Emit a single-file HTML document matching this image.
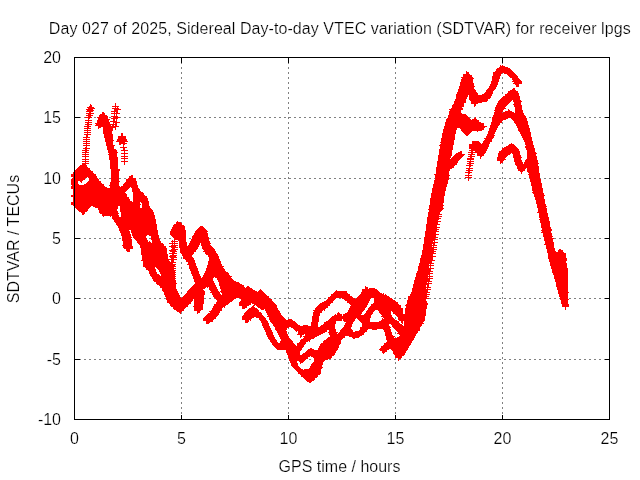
<!DOCTYPE html>
<html><head><meta charset="utf-8"><title>SDTVAR lpgs</title>
<style>
html,body{margin:0;padding:0;background:#fff;overflow:hidden}
svg{display:block}
text{will-change:transform;stroke:#fff;stroke-width:.22px;font-family:"Liberation Sans",Arial,sans-serif;font-size:16px;fill:#000}
</style></head><body>
<svg width="640" height="480" viewBox="0 0 640 480">
<defs><marker id="p" markerWidth="7" markerHeight="7" refX="3.5" refY="3.5" markerUnits="userSpaceOnUse" overflow="visible"><path d="M0 3.5h7M3.5 0v7" stroke="#f00" stroke-width="1" fill="none" shape-rendering="crispEdges"/></marker></defs>
<rect width="640" height="480" fill="#fff"/>
<g stroke="#808080" stroke-width="1" stroke-dasharray="2 3" shape-rendering="crispEdges">
<line x1="181.5" y1="57" x2="181.5" y2="419"/><line x1="288.5" y1="57" x2="288.5" y2="419"/><line x1="395.5" y1="57" x2="395.5" y2="419"/><line x1="502.5" y1="57" x2="502.5" y2="419"/><line x1="74" y1="117.5" x2="609" y2="117.5"/><line x1="74" y1="178.5" x2="609" y2="178.5"/><line x1="74" y1="238.5" x2="609" y2="238.5"/><line x1="74" y1="298.5" x2="609" y2="298.5"/><line x1="74" y1="359.5" x2="609" y2="359.5"/>
</g>
<path d="M74.5 419.5v-5M74.5 57.5v5M181.5 419.5v-5M181.5 57.5v5M288.5 419.5v-5M288.5 57.5v5M395.5 419.5v-5M395.5 57.5v5M502.5 419.5v-5M502.5 57.5v5M609.5 419.5v-5M609.5 57.5v5M74.5 57.5h5M609.5 57.5h-5M74.5 117.5h5M609.5 117.5h-5M74.5 178.5h5M609.5 178.5h-5M74.5 238.5h5M609.5 238.5h-5M74.5 298.5h5M609.5 298.5h-5M74.5 359.5h5M609.5 359.5h-5M74.5 419.5h5M609.5 419.5h-5" stroke="#000" stroke-width="1" fill="none" shape-rendering="crispEdges"/>
<polyline transform="translate(.5 .5)" fill="none" stroke="none" marker-start="url(#p)" marker-mid="url(#p)" marker-end="url(#p)" points="74,174 74,175 74,176 74,179 74,180 74,181 74,182 74,183 74,184 74,186 74,187 74,188 74,195 74,196 74,202 74,203 74,204 75,178 75,180 75,185 75,186 75,187 76,172 76,173 76,174 76,175 76,176 76,177 76,185 76,186 76,187 76,188 76,189 76,190 76,191 76,192 76,193 76,194 76,195 76,196 76,197 76,198 76,199 76,200 76,201 76,202 76,203 76,204 76,205 77,171 77,172 77,173 77,174 77,175 77,176 77,186 77,188 77,189 77,190 77,192 77,193 77,195 77,198 77,201 77,203 77,204 77,206 78,170 78,171 78,172 78,174 78,175 78,176 78,187 78,189 78,191 78,192 78,195 78,197 78,198 78,201 78,202 78,204 78,207 79,169 79,171 79,174 79,176 79,177 79,188 79,189 79,191 79,192 79,195 79,196 79,198 79,201 79,204 79,206 79,207 79,208 80,168 80,170 80,171 80,173 80,174 80,175 80,177 80,178 80,188 80,189 80,190 80,192 80,193 80,195 80,198 80,200 80,201 80,204 80,205 80,207 80,208 81,168 81,169 81,171 81,172 81,174 81,176 81,177 81,178 81,179 81,188 81,189 81,192 81,194 81,195 81,198 81,199 81,201 81,204 81,207 81,209 82,167 82,168 82,171 82,173 82,174 82,176 82,177 82,188 82,189 82,192 82,193 82,195 82,196 82,197 82,198 82,199 82,200 82,201 82,202 82,203 82,204 82,205 82,207 82,208 82,210 82,211 83,166 83,167 83,168 83,171 83,172 83,174 83,175 83,188 83,189 83,192 83,195 83,197 83,198 83,201 83,202 83,204 83,206 83,207 83,210 83,211 84,167 84,168 84,171 84,174 84,175 84,187 84,189 84,191 84,192 84,195 84,196 84,198 84,201 84,204 84,206 84,207 84,209 84,210 85,150 85,152 85,154 85,156 85,159 85,161 85,163 85,168 85,170 85,171 85,172 85,173 85,174 85,187 85,189 85,190 85,192 85,195 85,198 85,200 85,201 85,204 85,205 85,207 85,208 86,137 86,139 86,141 86,143 86,145 86,148 86,168 86,169 86,171 86,172 86,174 86,186 86,189 86,192 86,194 86,195 86,198 86,199 86,201 86,204 86,207 87,126 87,128 87,130 87,132 87,134 87,170 87,171 87,172 87,185 87,186 87,188 87,189 87,192 87,193 87,195 87,198 87,201 87,203 87,204 87,206 88,117 88,120 88,122 88,124 88,171 88,172 88,173 88,184 88,186 88,187 88,189 88,192 88,195 88,197 88,198 88,201 88,202 88,204 88,205 89,109 89,111 89,113 89,115 89,172 89,173 89,174 89,175 89,176 89,183 89,184 89,186 89,189 89,191 89,192 89,195 89,196 89,198 89,201 89,203 89,204 90,107 90,110 90,113 90,173 90,174 90,175 90,182 90,183 90,185 90,186 90,189 90,190 90,192 90,195 90,198 90,200 90,201 90,203 91,108 91,174 91,175 91,176 91,177 91,181 91,183 91,184 91,186 91,189 91,192 91,194 91,195 91,198 91,199 91,201 91,202 92,174 92,175 92,176 92,177 92,178 92,179 92,180 92,181 92,183 92,186 92,188 92,189 92,192 92,193 92,195 92,198 92,201 92,202 93,176 93,177 93,180 93,182 93,183 93,184 93,185 93,186 93,187 93,188 93,189 93,190 93,191 93,192 93,193 93,194 93,195 93,197 93,198 93,201 93,202 93,203 94,178 94,180 94,181 94,183 94,186 94,189 94,191 94,192 94,195 94,196 94,198 94,201 94,203 95,179 95,180 95,181 95,183 95,185 95,186 95,189 95,190 95,192 95,195 95,196 95,198 95,200 95,201 95,203 95,204 96,181 96,183 96,184 96,186 96,189 96,192 96,194 96,195 96,196 96,198 96,199 96,201 96,204 97,182 97,183 97,184 97,186 97,188 97,189 97,192 97,193 97,195 97,196 97,198 97,201 97,203 97,204 98,123 98,125 98,184 98,186 98,187 98,189 98,192 98,195 98,196 98,197 98,198 98,201 98,202 98,204 98,205 98,206 99,123 99,124 99,185 99,186 99,189 99,191 99,192 99,195 99,196 99,198 99,201 99,204 99,206 99,207 100,117 100,120 100,121 100,122 100,123 100,124 100,184 100,185 100,186 100,189 100,190 100,192 100,195 100,196 100,198 100,200 100,201 100,204 100,205 100,207 101,117 101,118 101,119 101,120 101,122 101,123 101,186 101,187 101,189 101,192 101,194 101,195 101,196 101,198 101,199 101,201 101,204 101,207 101,208 101,209 102,115 102,116 102,117 102,118 102,120 102,122 102,123 102,188 102,189 102,192 102,193 102,195 102,197 102,198 102,201 102,203 102,204 102,207 102,208 102,209 102,210 102,211 102,212 103,115 103,117 103,118 103,119 103,120 103,121 103,122 103,123 103,124 103,125 103,126 103,188 103,189 103,192 103,195 103,197 103,198 103,201 103,202 103,204 103,207 103,210 103,212 103,213 104,116 104,117 104,118 104,120 104,121 104,122 104,123 104,126 104,189 104,191 104,192 104,195 104,196 104,197 104,198 104,201 104,204 104,206 104,207 104,210 104,211 104,212 105,119 105,120 105,121 105,122 105,123 105,124 105,125 105,126 105,190 105,192 105,195 105,197 105,198 105,200 105,201 105,204 105,205 105,207 105,210 105,212 106,119 106,122 106,123 106,124 106,126 106,127 106,128 106,129 106,130 106,131 106,132 106,133 106,190 106,192 106,194 106,195 106,197 106,198 106,199 106,201 106,204 106,207 106,209 106,210 106,212 107,125 107,126 107,128 107,129 107,130 107,131 107,132 107,133 107,134 107,135 107,136 107,137 107,191 107,192 107,193 107,195 107,197 107,198 107,199 107,200 107,201 107,202 107,203 107,204 107,207 107,208 107,210 107,212 108,126 108,127 108,128 108,129 108,130 108,131 108,132 108,133 108,134 108,135 108,136 108,137 108,138 108,139 108,140 108,141 108,191 108,192 108,195 108,196 108,197 108,198 108,201 108,202 108,203 108,204 108,205 108,206 108,207 108,210 108,211 108,212 109,126 109,134 109,135 109,136 109,137 109,138 109,139 109,140 109,141 109,142 109,143 109,144 109,145 109,191 109,192 109,195 109,196 109,198 109,201 109,204 109,206 109,207 109,208 109,210 109,211 109,212 110,140 110,145 110,146 110,147 110,148 110,149 110,188 110,189 110,190 110,192 110,195 110,196 110,198 110,200 110,201 110,204 110,205 110,207 110,209 110,210 110,212 110,213 111,145 111,149 111,150 111,151 111,152 111,154 111,188 111,189 111,192 111,194 111,195 111,196 111,198 111,199 111,201 111,204 111,207 111,209 111,210 111,212 112,127 112,149 112,150 112,153 112,154 112,155 112,156 112,157 112,158 112,159 112,185 112,188 112,189 112,192 112,193 112,195 112,196 112,198 112,201 112,203 112,204 112,207 112,208 112,210 112,211 112,213 112,214 112,215 113,121 113,124 113,150 113,151 113,152 113,153 113,154 113,155 113,156 113,157 113,158 113,159 113,160 113,161 113,162 113,163 113,164 113,165 113,166 113,167 113,168 113,182 113,183 113,184 113,185 113,186 113,187 113,188 113,189 113,192 113,195 113,196 113,197 113,198 113,201 113,202 113,204 113,206 113,207 113,208 113,209 113,210 113,212 113,213 113,215 114,111 114,113 114,116 114,118 114,152 114,157 114,158 114,159 114,160 114,161 114,162 114,163 114,164 114,165 114,166 114,167 114,168 114,169 114,170 114,171 114,172 114,173 114,174 114,175 114,176 114,177 114,178 114,179 114,180 114,181 114,182 114,183 114,184 114,185 114,186 114,187 114,188 114,189 114,190 114,191 114,192 114,193 114,194 114,195 114,196 114,198 114,201 114,204 114,205 114,211 114,212 114,213 114,214 114,215 115,106 115,108 115,126 115,169 115,170 115,171 115,172 115,173 115,174 115,175 115,176 115,177 115,178 115,179 115,180 115,181 115,182 115,183 115,184 115,185 115,186 115,189 115,190 115,192 115,195 115,196 115,198 115,200 115,201 115,204 115,205 115,213 115,215 115,216 115,217 115,218 116,113 116,117 116,122 116,169 116,170 116,181 116,187 116,188 116,189 116,192 116,194 116,195 116,196 116,198 116,199 116,201 116,202 116,203 116,204 116,205 116,217 116,218 116,219 117,109 117,187 117,188 117,189 117,192 117,193 117,195 117,197 117,198 117,201 117,202 117,203 117,205 117,217 117,218 117,219 117,220 117,221 118,187 118,188 118,189 118,192 118,194 118,195 118,197 118,198 118,201 118,202 118,219 118,220 118,222 119,141 119,189 119,190 119,191 119,192 119,193 119,195 119,196 119,198 119,199 119,201 119,202 119,220 119,221 119,222 119,223 119,224 120,139 120,140 120,141 120,190 120,192 120,195 120,198 120,200 120,201 120,203 120,204 120,205 120,220 120,222 120,224 120,225 121,136 121,137 121,138 121,139 121,140 121,190 121,191 121,192 121,194 121,195 121,198 121,199 121,200 121,201 121,204 121,205 121,217 121,218 121,219 121,221 121,222 121,224 121,225 121,226 121,227 122,136 122,137 122,138 122,139 122,140 122,189 122,190 122,191 122,193 122,194 122,195 122,198 122,201 122,203 122,204 122,205 122,217 122,218 122,219 122,221 122,222 122,223 122,225 122,226 122,227 122,228 122,229 122,230 123,139 123,140 123,141 123,143 123,147 123,187 123,188 123,189 123,190 123,194 123,195 123,196 123,197 123,198 123,201 123,202 123,204 123,206 123,207 123,208 123,209 123,210 123,211 123,217 123,219 123,221 123,222 123,225 123,227 123,228 123,231 123,232 124,141 124,150 124,153 124,156 124,158 124,161 124,186 124,187 124,188 124,189 124,197 124,198 124,201 124,202 124,203 124,204 124,205 124,206 124,207 124,210 124,211 124,212 124,213 124,214 124,215 124,216 124,219 124,221 124,222 124,223 124,224 124,225 124,226 124,227 124,228 124,229 124,230 124,231 124,233 124,234 124,235 125,186 125,187 125,188 125,197 125,198 125,200 125,201 125,204 125,205 125,206 125,207 125,210 125,213 125,215 125,216 125,219 125,220 125,222 125,223 125,225 125,228 125,229 125,230 125,231 125,232 125,233 125,234 125,235 125,236 125,237 125,238 125,239 125,240 125,245 126,184 126,185 126,186 126,187 126,199 126,200 126,201 126,204 126,207 126,208 126,209 126,210 126,213 126,214 126,216 126,219 126,222 126,223 126,224 126,225 126,228 126,229 126,231 126,232 126,233 126,234 126,235 126,236 126,237 126,238 126,239 126,240 126,241 126,242 126,243 126,244 126,245 126,246 126,247 127,183 127,185 127,186 127,201 127,203 127,204 127,207 127,208 127,209 127,210 127,213 127,216 127,218 127,219 127,222 127,223 127,225 127,228 127,229 127,234 127,235 127,236 127,237 127,238 127,239 127,240 127,241 127,242 127,243 127,244 127,245 127,246 127,248 128,182 128,183 128,184 128,185 128,201 128,202 128,204 128,207 128,210 128,212 128,213 128,216 128,217 128,219 128,221 128,222 128,225 128,227 128,228 128,229 128,237 128,239 128,240 128,241 128,242 128,243 128,244 128,245 128,246 128,247 128,248 129,179 129,180 129,181 129,183 129,184 129,202 129,203 129,204 129,206 129,207 129,210 129,211 129,213 129,216 129,219 129,220 129,221 129,222 129,225 129,226 129,246 129,247 129,248 130,179 130,180 130,183 130,204 130,205 130,207 130,210 130,211 130,212 130,213 130,214 130,215 130,216 130,217 130,219 130,220 130,222 130,225 130,226 131,178 131,179 131,180 131,181 131,182 131,183 131,184 131,205 131,207 131,209 131,210 131,213 131,214 131,216 131,218 131,219 131,222 131,224 131,225 131,227 131,228 131,229 132,178 132,179 132,180 132,183 132,184 132,185 132,186 132,206 132,207 132,208 132,209 132,210 132,213 132,216 132,218 132,219 132,222 132,223 132,225 132,228 132,229 133,181 133,182 133,183 133,184 133,186 133,203 133,204 133,205 133,207 133,208 133,210 133,212 133,213 133,216 133,217 133,218 133,219 133,222 133,225 133,227 133,228 133,229 134,185 134,186 134,187 134,203 134,204 134,206 134,207 134,210 134,211 134,213 134,216 134,218 134,219 134,221 134,222 134,225 134,226 134,228 134,230 134,231 135,188 135,189 135,190 135,191 135,203 135,204 135,205 135,206 135,207 135,210 135,213 135,215 135,216 135,218 135,219 135,220 135,222 135,225 135,228 135,230 135,231 135,232 135,233 135,234 135,235 136,189 136,190 136,191 136,192 136,193 136,194 136,195 136,196 136,197 136,198 136,199 136,200 136,201 136,202 136,203 136,204 136,205 136,206 136,207 136,209 136,210 136,213 136,214 136,216 136,218 136,219 136,222 136,224 136,225 136,228 136,229 136,231 136,234 136,236 136,237 137,191 137,192 137,193 137,195 137,196 137,197 137,198 137,201 137,204 137,208 137,210 137,213 137,216 137,218 137,219 137,222 137,223 137,225 137,228 137,231 137,233 137,234 137,237 137,238 138,192 138,195 138,197 138,198 138,201 138,208 138,210 138,212 138,213 138,216 138,217 138,218 138,219 138,222 138,225 138,227 138,228 138,231 138,232 138,234 138,237 138,239 139,192 139,193 139,195 139,196 139,198 139,199 139,200 139,201 139,208 139,209 139,210 139,211 139,213 139,216 139,218 139,219 139,221 139,222 139,225 139,226 139,227 139,228 139,229 139,230 139,231 139,232 139,234 139,236 139,237 139,240 140,194 140,195 140,198 140,211 140,213 140,215 140,216 140,218 140,219 140,220 140,222 140,225 140,228 140,230 140,231 140,233 140,234 140,235 140,237 140,240 140,241 140,242 141,195 141,198 141,199 141,211 141,213 141,214 141,216 141,217 141,218 141,219 141,220 141,222 141,224 141,225 141,228 141,229 141,231 141,234 141,236 141,237 141,238 141,239 141,240 141,243 142,196 142,198 142,199 142,211 142,213 142,216 142,218 142,219 142,221 142,222 142,223 142,224 142,225 142,228 142,231 142,233 142,234 142,236 142,237 142,238 142,240 142,241 142,243 142,244 143,196 143,197 143,198 143,199 143,200 143,201 143,208 143,209 143,210 143,211 143,212 143,213 143,215 143,216 143,217 143,219 143,222 143,224 143,225 143,227 143,228 143,231 143,232 143,234 143,235 143,238 143,239 143,240 143,242 143,243 143,245 143,246 143,247 144,198 144,199 144,200 144,201 144,202 144,208 144,210 144,211 144,213 144,214 144,216 144,219 144,221 144,222 144,224 144,225 144,226 144,228 144,231 144,233 144,240 144,241 144,242 144,243 144,244 144,245 144,246 144,248 144,249 144,250 144,251 144,252 144,253 144,254 144,260 145,201 145,202 145,203 145,204 145,205 145,206 145,207 145,208 145,210 145,213 145,215 145,216 145,219 145,220 145,222 145,225 145,228 145,230 145,231 145,233 145,242 145,243 145,245 145,246 145,247 145,249 145,250 145,251 145,252 145,254 145,255 145,256 145,257 145,258 145,259 145,260 146,206 146,207 146,209 146,210 146,211 146,212 146,213 146,214 146,216 146,219 146,222 146,224 146,225 146,226 146,228 146,229 146,230 146,231 146,232 146,242 146,243 146,244 146,246 146,248 146,249 146,252 146,254 146,255 146,258 146,259 146,261 146,262 146,263 146,264 146,265 146,266 147,208 147,209 147,210 147,213 147,216 147,218 147,219 147,222 147,223 147,225 147,226 147,228 147,230 147,231 147,243 147,244 147,245 147,246 147,248 147,249 147,252 147,253 147,255 147,258 147,261 147,263 147,264 147,266 148,209 148,210 148,212 148,213 148,216 148,217 148,219 148,222 148,225 148,227 148,228 148,231 148,245 148,246 148,247 148,249 148,252 148,255 148,257 148,258 148,261 148,262 148,264 148,267 149,210 149,211 149,213 149,216 149,219 149,221 149,222 149,225 149,226 149,228 149,231 149,232 149,244 149,245 149,246 149,249 149,250 149,251 149,252 149,255 149,256 149,258 149,261 149,264 149,266 149,267 149,268 150,212 150,213 150,214 150,215 150,216 150,219 150,220 150,222 150,225 150,228 150,229 150,230 150,231 150,232 150,245 150,246 150,249 150,250 150,251 150,252 150,255 150,258 150,260 150,261 150,262 150,263 150,264 150,265 150,267 150,269 151,215 151,216 151,217 151,218 151,219 151,222 151,224 151,225 151,228 151,229 151,231 151,233 151,234 151,246 151,249 151,251 151,252 151,254 151,255 151,258 151,259 151,261 151,264 151,266 151,267 151,268 151,269 151,270 152,219 152,220 152,221 152,222 152,223 152,225 152,228 152,230 152,231 152,233 152,234 152,235 152,243 152,244 152,245 152,246 152,248 152,249 152,252 152,253 152,255 152,258 152,261 152,263 152,264 152,265 152,266 152,269 152,270 152,271 152,272 152,273 153,224 153,225 153,226 153,227 153,228 153,229 153,231 153,232 153,234 153,235 153,243 153,246 153,247 153,249 153,252 153,253 153,254 153,255 153,257 153,258 153,261 153,262 153,264 153,266 153,272 153,273 153,274 153,275 154,230 154,231 154,232 154,233 154,234 154,235 154,236 154,237 154,238 154,239 154,243 154,246 154,249 154,251 154,252 154,255 154,256 154,257 154,258 154,261 154,263 154,264 154,265 154,266 154,274 154,275 154,276 155,235 155,236 155,237 155,238 155,239 155,240 155,241 155,242 155,243 155,244 155,245 155,246 155,247 155,248 155,249 155,250 155,252 155,255 155,257 155,258 155,260 155,261 155,263 155,274 155,275 155,276 155,277 155,278 156,239 156,240 156,241 156,243 156,244 156,246 156,249 156,252 156,254 156,255 156,257 156,258 156,259 156,261 156,264 156,275 156,276 156,277 156,279 156,280 157,242 157,243 157,246 157,248 157,249 157,252 157,253 157,255 157,258 157,261 157,263 157,264 157,265 157,277 157,278 157,279 157,280 157,281 158,243 158,246 158,247 158,249 158,252 158,255 158,257 158,258 158,259 158,261 158,262 158,264 158,266 158,277 158,278 158,279 158,281 159,243 159,244 159,246 159,249 159,251 159,252 159,255 159,256 159,258 159,260 159,261 159,264 159,266 159,267 159,278 159,279 159,281 159,282 160,244 160,245 160,246 160,249 160,250 160,252 160,255 160,258 160,260 160,261 160,264 160,265 160,267 160,268 160,279 160,280 160,282 160,283 161,246 161,249 161,252 161,254 161,255 161,258 161,259 161,261 161,264 161,267 161,269 161,276 161,277 161,278 161,279 161,282 161,283 161,284 162,246 162,247 162,248 162,249 162,252 162,253 162,255 162,258 162,261 162,262 162,263 162,264 162,267 162,268 162,270 162,271 162,276 162,278 162,279 162,280 162,282 162,283 162,285 163,248 163,249 163,250 163,251 163,252 163,253 163,255 163,257 163,258 163,261 163,262 163,264 163,265 163,267 163,270 163,272 163,273 163,276 163,277 163,279 163,280 163,282 163,285 163,286 163,287 164,254 164,255 164,256 164,257 164,258 164,259 164,261 164,264 164,266 164,267 164,270 164,271 164,273 164,274 164,275 164,276 164,279 164,280 164,281 164,282 164,285 164,286 164,287 165,259 165,260 165,261 165,264 165,265 165,267 165,268 165,270 165,273 165,275 165,276 165,279 165,280 165,282 165,285 165,288 165,289 165,290 166,262 166,264 166,267 166,269 166,270 166,271 166,272 166,273 166,274 166,276 166,279 166,280 166,282 166,284 166,285 166,288 166,289 166,290 166,291 167,263 167,264 167,267 167,268 167,270 167,273 167,274 167,275 167,276 167,277 167,278 167,279 167,280 167,282 167,283 167,285 167,288 167,291 167,292 167,293 167,294 168,264 168,267 168,270 168,272 168,273 168,276 168,277 168,279 168,281 168,282 168,283 168,284 168,285 168,287 168,288 168,291 168,292 168,293 168,294 168,295 168,296 169,264 169,265 169,266 169,267 169,269 169,270 169,271 169,273 169,276 169,279 169,281 169,282 169,285 169,286 169,287 169,288 169,291 169,294 169,296 169,297 169,298 169,299 170,267 170,268 170,269 170,270 170,271 170,273 170,274 170,275 170,276 170,279 170,280 170,282 170,285 170,288 170,289 170,290 170,291 170,292 170,293 170,294 170,295 170,297 170,298 170,299 170,300 170,301 170,302 171,259 171,262 171,265 171,271 171,272 171,273 171,274 171,275 171,276 171,277 171,278 171,279 171,280 171,282 171,284 171,285 171,288 171,289 171,291 171,294 171,295 171,297 171,299 171,300 171,302 172,243 172,246 172,250 172,253 172,256 172,262 172,264 172,266 172,268 172,270 172,272 172,274 172,276 172,278 172,280 172,281 172,282 172,283 172,284 172,285 172,286 172,287 172,288 172,291 172,293 172,294 172,296 172,297 172,298 172,300 172,303 173,231 173,232 173,233 173,234 173,251 173,253 173,255 173,257 173,259 173,283 173,289 173,290 173,291 173,292 173,294 173,297 173,298 173,300 173,302 173,303 173,304 173,305 174,229 174,230 174,231 174,233 174,234 174,235 174,241 174,243 174,245 174,247 174,249 174,291 174,292 174,294 174,296 174,297 174,299 174,300 174,301 174,303 174,306 175,227 175,228 175,229 175,230 175,231 175,234 175,235 175,236 175,293 175,294 175,295 175,297 175,300 175,301 175,303 175,305 175,306 176,225 176,226 176,228 176,229 176,231 176,233 176,234 176,236 176,295 176,296 176,297 176,299 176,300 176,302 176,303 176,304 176,306 176,307 177,224 177,225 177,228 177,231 177,233 177,234 177,236 177,297 177,298 177,300 177,302 177,303 177,306 177,308 178,225 178,227 178,228 178,230 178,231 178,232 178,234 178,237 178,298 178,300 178,302 178,303 178,306 178,307 178,308 179,225 179,226 179,228 179,231 179,233 179,234 179,236 179,237 179,238 179,239 179,298 179,299 179,300 179,301 179,303 179,304 179,305 179,306 179,307 179,308 179,309 180,225 180,228 180,230 180,231 180,234 180,235 180,237 180,239 180,300 180,302 180,303 180,305 180,306 180,309 180,310 181,226 181,227 181,228 181,229 181,231 181,234 181,235 181,236 181,237 181,239 181,240 181,301 181,302 181,303 181,304 181,306 181,308 182,230 182,231 182,232 182,233 182,234 182,235 182,236 182,237 182,238 182,239 182,240 182,241 182,242 182,243 182,244 182,245 182,246 182,247 182,300 182,301 182,302 182,303 182,306 182,307 183,242 183,243 183,244 183,245 183,246 183,247 183,248 183,249 183,250 183,251 183,252 183,299 183,300 183,301 183,302 183,303 183,304 183,306 184,246 184,249 184,250 184,251 184,252 184,253 184,298 184,300 184,301 184,303 184,305 185,246 185,247 185,249 185,250 185,252 185,253 185,254 185,255 185,297 185,300 185,301 185,302 185,303 185,304 186,248 186,249 186,250 186,252 186,254 186,255 186,256 186,257 186,258 186,296 186,297 186,299 186,300 186,301 186,303 187,249 187,250 187,251 187,252 187,253 187,254 187,255 187,256 187,257 187,258 187,295 187,297 187,298 187,299 187,300 187,302 187,303 188,248 188,249 188,250 188,252 188,254 188,255 188,256 188,257 188,258 188,259 188,294 188,297 188,298 188,299 188,300 188,301 189,246 189,247 189,249 189,251 189,252 189,254 189,257 189,258 189,259 189,260 189,293 189,294 189,296 189,297 189,298 189,299 189,300 190,246 190,249 190,250 190,252 190,253 190,258 190,259 190,260 190,261 190,264 190,291 190,292 190,294 190,295 190,296 190,297 190,298 191,245 191,246 191,248 191,249 191,250 191,251 191,260 191,261 191,262 191,263 191,264 191,290 191,291 191,294 191,295 191,297 192,243 192,244 192,246 192,247 192,248 192,249 192,250 192,251 192,263 192,264 192,265 192,266 192,267 192,268 192,289 192,291 192,293 192,294 192,296 192,297 193,241 193,242 193,243 193,245 193,246 193,247 193,249 193,266 193,267 193,268 193,269 193,270 193,288 193,291 193,292 193,293 193,294 193,295 194,239 194,240 194,241 194,243 194,244 194,245 194,246 194,247 194,248 194,268 194,269 194,270 194,271 194,272 194,273 194,287 194,288 194,291 194,292 194,293 194,294 194,297 195,236 195,237 195,238 195,240 195,241 195,242 195,243 195,244 195,245 195,246 195,271 195,272 195,273 195,274 195,275 195,286 195,287 195,288 195,290 195,291 195,293 195,294 195,295 195,296 195,297 196,235 196,236 196,237 196,239 196,240 196,241 196,242 196,243 196,244 196,274 196,275 196,276 196,277 196,278 196,285 196,286 196,288 196,289 196,291 196,293 196,294 196,297 196,306 197,233 197,234 197,237 197,238 197,239 197,240 197,242 197,276 197,277 197,278 197,279 197,280 197,281 197,284 197,285 197,288 197,291 197,292 197,293 197,294 197,297 197,301 197,302 197,303 197,304 197,305 197,306 197,307 197,308 197,309 197,310 198,231 198,232 198,234 198,236 198,237 198,238 198,239 198,240 198,242 198,278 198,279 198,280 198,281 198,282 198,283 198,285 198,287 198,288 198,289 198,290 198,291 198,292 198,293 198,294 198,297 198,298 198,299 198,300 198,301 198,302 198,303 198,304 198,305 198,306 198,307 198,308 198,309 199,230 199,231 199,234 199,235 199,236 199,237 199,238 199,240 199,241 199,278 199,279 199,281 199,282 199,283 199,284 199,285 199,286 199,287 199,288 199,289 199,291 199,294 199,295 199,296 199,297 199,298 199,299 199,300 199,301 199,302 199,303 199,304 199,305 199,306 199,307 199,308 199,309 200,229 200,230 200,231 200,233 200,234 200,235 200,237 200,238 200,239 200,279 200,280 200,282 200,285 200,286 200,288 200,290 200,291 200,293 200,294 200,295 200,296 200,297 200,298 200,299 200,300 200,301 200,302 200,303 201,229 201,231 201,232 201,233 201,234 201,235 201,236 201,237 201,238 201,239 201,240 201,241 201,242 201,281 201,282 201,284 201,285 201,288 201,291 201,292 201,293 201,294 202,229 202,231 202,232 202,233 202,234 202,237 202,238 202,240 202,242 202,280 202,282 202,283 202,284 202,285 202,286 202,287 203,230 203,231 203,232 203,233 203,234 203,235 203,237 203,239 203,240 203,242 203,278 203,279 203,280 203,282 203,283 203,284 203,285 204,231 204,233 204,234 204,235 204,236 204,237 204,238 204,239 204,240 204,241 204,243 204,244 204,245 204,278 204,279 204,281 204,282 204,283 204,285 205,237 205,238 205,239 205,240 205,241 205,242 205,243 205,244 205,245 205,246 205,247 205,248 205,277 205,279 205,280 205,282 205,284 206,241 206,242 206,243 206,244 206,245 206,246 206,247 206,249 206,251 206,275 206,276 206,279 206,280 206,281 206,282 206,283 206,318 206,319 206,320 207,243 207,245 207,246 207,247 207,248 207,249 207,250 207,251 207,273 207,274 207,276 207,278 207,279 207,280 207,281 207,282 207,283 207,284 207,317 207,318 207,319 207,320 208,246 208,247 208,248 208,249 208,252 208,253 208,271 208,272 208,273 208,275 208,276 208,277 208,278 208,279 208,282 208,283 208,316 208,317 208,318 208,319 208,320 209,247 209,249 209,250 209,251 209,252 209,253 209,268 209,269 209,270 209,271 209,273 209,274 209,275 209,276 209,278 209,279 209,280 209,281 209,282 209,283 209,284 209,285 209,316 209,318 209,319 210,248 210,249 210,250 210,251 210,252 210,253 210,254 210,265 210,266 210,267 210,270 210,273 210,274 210,275 210,276 210,277 210,281 210,282 210,283 210,285 210,286 210,314 210,315 210,317 210,318 211,249 211,250 211,252 211,253 211,254 211,255 211,256 211,261 211,262 211,263 211,264 211,267 211,269 211,270 211,271 211,272 211,273 211,274 211,276 211,283 211,284 211,285 211,286 211,313 211,314 211,315 211,316 211,317 211,318 212,251 212,252 212,253 212,254 212,255 212,256 212,257 212,258 212,259 212,260 212,261 212,263 212,264 212,267 212,268 212,269 212,270 212,272 212,273 212,275 212,276 212,285 212,286 212,287 212,288 212,289 212,311 212,313 212,315 212,316 212,317 212,318 213,253 213,255 213,256 213,257 213,258 213,259 213,260 213,261 213,262 213,263 213,264 213,265 213,266 213,267 213,270 213,271 213,272 213,273 213,274 213,287 213,288 213,289 213,290 213,292 213,311 213,312 213,314 213,315 213,316 214,254 214,255 214,256 214,257 214,258 214,260 214,261 214,262 214,264 214,265 214,266 214,267 214,268 214,269 214,270 214,271 214,273 214,289 214,290 214,291 214,292 214,310 214,311 214,312 214,313 214,314 214,315 215,256 215,257 215,258 215,259 215,260 215,261 215,264 215,265 215,267 215,270 215,271 215,273 215,274 215,291 215,292 215,293 215,294 215,308 215,309 215,310 215,311 215,312 215,313 215,314 216,259 216,260 216,261 216,262 216,263 216,264 216,267 216,269 216,270 216,271 216,273 216,274 216,292 216,293 216,294 216,295 216,296 216,306 216,307 216,309 216,310 216,311 216,312 217,261 217,262 217,263 217,264 217,265 217,266 217,267 217,268 217,270 217,272 217,273 217,275 217,276 217,294 217,295 217,296 217,297 217,304 217,305 217,306 217,307 217,308 217,309 217,310 218,264 218,265 218,266 218,267 218,270 218,272 218,273 218,276 218,277 218,296 218,297 218,298 218,304 218,306 218,307 218,308 218,309 218,310 219,266 219,267 219,268 219,269 219,270 219,271 219,273 219,276 219,277 219,296 219,297 219,298 219,299 219,302 219,303 219,305 219,306 219,307 220,266 220,268 220,270 220,271 220,273 220,274 220,275 220,276 220,278 220,279 220,297 220,298 220,299 220,300 220,302 220,303 220,304 220,305 220,306 221,269 221,270 221,272 221,273 221,274 221,275 221,276 221,279 221,280 221,281 221,298 221,299 221,300 221,301 221,302 221,303 221,304 221,305 221,306 222,271 222,273 222,274 222,276 222,278 222,279 222,282 222,283 222,284 222,285 222,299 222,300 222,303 222,304 223,272 223,273 223,274 223,275 223,276 223,277 223,278 223,279 223,282 223,285 223,286 223,287 223,288 223,291 223,297 223,298 223,299 223,300 223,302 223,303 224,272 224,273 224,275 224,276 224,279 224,280 224,281 224,282 224,285 224,286 224,288 224,289 224,290 224,291 224,292 224,297 224,300 224,301 224,302 224,303 224,304 225,274 225,275 225,276 225,277 225,279 225,280 225,281 225,282 225,285 225,288 225,289 225,290 225,291 225,292 225,293 225,294 225,295 225,296 225,297 225,300 225,301 225,302 226,275 226,276 226,278 226,279 226,282 226,283 226,284 226,285 226,288 226,289 226,291 226,294 226,295 226,296 226,297 226,299 226,300 226,301 227,276 227,277 227,278 227,279 227,282 227,283 227,285 227,286 227,288 227,291 227,293 227,294 227,295 227,297 227,298 227,299 227,300 228,276 228,278 228,279 228,280 228,282 228,285 228,287 228,288 228,291 228,292 228,294 228,297 228,298 228,299 228,300 229,279 229,281 229,282 229,285 229,286 229,288 229,289 229,290 229,291 229,294 229,296 229,297 229,298 229,299 230,280 230,281 230,282 230,285 230,288 230,289 230,290 230,291 230,294 230,295 230,297 230,298 231,281 231,282 231,284 231,285 231,288 231,289 231,290 231,291 231,294 231,297 231,298 232,282 232,283 232,285 232,288 232,290 232,291 232,293 232,294 232,296 232,297 233,283 233,285 233,287 233,288 233,290 233,291 233,292 233,294 233,295 233,296 234,284 234,285 234,286 234,288 234,290 234,291 234,294 234,295 235,284 235,285 235,288 235,290 235,291 235,294 235,295 236,285 236,288 236,289 236,291 236,293 236,294 237,285 237,288 237,291 237,293 237,294 238,285 238,287 238,288 238,291 238,292 238,293 238,294 239,286 239,288 239,291 239,292 239,294 240,287 240,288 240,290 240,291 240,292 240,294 240,295 241,287 241,288 241,289 241,291 241,292 241,294 241,295 241,296 242,288 242,291 242,292 242,293 242,294 242,296 242,297 242,302 242,303 242,304 242,305 243,288 243,289 243,291 243,292 243,294 243,297 243,298 243,301 243,302 243,303 243,304 243,305 244,290 244,291 244,292 244,294 244,296 244,297 244,298 244,300 244,301 244,302 244,303 244,304 244,305 245,291 245,292 245,294 245,295 245,297 245,299 245,300 245,301 245,303 245,304 245,316 245,317 245,318 245,319 246,290 246,291 246,293 246,294 246,297 246,298 246,299 246,300 246,302 246,303 246,304 246,315 246,317 246,318 246,319 247,289 247,291 247,293 247,294 247,295 247,297 247,298 247,300 247,301 247,302 247,313 247,314 247,315 247,316 247,317 247,318 247,319 248,289 248,291 248,292 248,294 248,296 248,297 248,300 248,301 248,302 248,312 248,315 248,316 248,317 248,318 249,290 249,291 249,294 249,296 249,297 249,300 249,301 249,311 249,312 249,314 249,315 249,316 250,291 250,294 250,295 250,297 250,300 250,301 250,311 250,312 250,313 250,314 250,315 250,316 250,317 251,291 251,294 251,297 251,299 251,310 251,312 251,313 251,314 251,315 252,292 252,293 252,294 252,297 252,298 252,300 252,309 252,312 252,313 253,293 253,294 253,297 253,300 253,308 253,309 253,310 253,311 253,312 253,313 254,293 254,294 254,296 254,297 254,300 254,301 254,302 254,310 254,311 254,312 254,313 255,294 255,295 255,297 255,300 255,301 255,311 255,312 255,313 256,294 256,297 256,299 256,300 256,302 256,312 256,313 256,314 257,295 257,296 257,297 257,298 257,300 257,302 257,303 257,312 257,313 257,314 258,294 258,297 258,300 258,301 258,302 258,303 258,304 258,313 258,314 259,293 259,294 259,296 259,297 259,298 259,299 259,300 259,301 259,303 259,304 259,315 260,292 260,294 260,295 260,297 260,300 260,303 260,305 260,316 261,293 261,294 261,297 261,299 261,300 261,301 261,303 261,304 261,306 261,317 262,294 262,297 262,298 262,300 262,301 262,303 262,306 262,318 262,319 263,295 263,296 263,297 263,300 263,302 263,303 263,306 263,320 264,296 264,297 264,300 264,301 264,303 264,305 264,321 264,322 265,297 265,300 265,303 265,305 265,306 265,307 265,323 265,324 265,325 266,298 266,299 266,300 266,303 266,304 266,306 266,308 266,326 266,327 267,299 267,300 267,303 267,305 267,306 267,308 267,328 267,329 268,299 268,300 268,302 268,303 268,305 268,306 268,307 268,309 268,310 268,330 268,331 269,301 269,303 269,306 269,309 269,310 269,311 269,312 269,332 269,333 269,334 270,302 270,303 270,305 270,306 270,307 270,308 270,309 270,310 270,312 270,313 270,314 270,316 270,335 270,336 271,303 271,304 271,306 271,309 271,310 271,312 271,314 271,315 271,316 271,337 271,338 272,304 272,305 272,306 272,308 272,309 272,311 272,312 272,313 272,315 272,317 272,318 272,319 272,339 273,305 273,306 273,307 273,308 273,309 273,312 273,313 273,315 273,317 273,318 273,319 273,320 273,321 273,340 273,341 274,308 274,309 274,311 274,312 274,314 274,315 274,316 274,318 274,321 274,322 274,342 275,310 275,312 275,315 275,316 275,317 275,318 275,320 275,321 275,323 275,343 275,344 276,311 276,312 276,314 276,315 276,318 276,319 276,321 276,323 276,324 276,325 276,345 277,313 277,314 277,315 277,318 277,319 277,320 277,321 277,323 277,324 277,326 277,345 277,346 278,315 278,317 278,318 278,321 278,322 278,324 278,327 278,328 278,329 278,346 279,316 279,318 279,321 279,322 279,324 279,326 279,327 279,329 279,330 279,346 280,317 280,318 280,320 280,321 280,323 280,324 280,325 280,327 280,330 280,331 280,332 280,344 280,345 280,346 281,318 281,319 281,321 281,324 281,325 281,326 281,327 281,328 281,329 281,330 281,333 281,334 281,345 281,346 282,319 282,321 282,323 282,324 282,327 282,328 282,330 282,331 282,332 282,333 282,334 282,335 282,336 282,344 282,345 282,346 283,320 283,321 283,322 283,323 283,324 283,327 283,328 283,329 283,331 283,332 283,333 283,335 283,336 283,337 283,338 283,342 283,343 283,344 283,345 283,346 284,321 284,323 284,324 284,326 284,327 284,334 284,335 284,336 284,337 284,338 284,339 284,340 284,341 284,342 284,344 284,345 284,346 285,322 285,323 285,324 285,325 285,336 285,337 285,339 285,340 285,342 285,343 285,344 285,345 285,346 286,323 286,324 286,325 286,338 286,339 286,342 286,344 286,345 286,347 286,349 287,323 287,324 287,339 287,342 287,343 287,344 287,345 287,348 287,349 288,322 288,323 288,324 288,340 288,342 288,345 288,347 288,348 288,349 289,322 289,323 289,341 289,342 289,343 289,345 289,346 289,348 289,350 290,322 290,323 290,343 290,345 290,347 290,348 290,350 290,351 290,352 290,353 290,354 291,322 291,323 291,324 291,344 291,345 291,348 291,349 291,351 291,354 291,355 291,356 291,357 292,323 292,324 292,345 292,348 292,350 292,351 292,353 292,354 292,355 292,356 292,357 292,358 292,359 292,360 293,324 293,325 293,346 293,347 293,348 293,351 293,352 293,354 293,357 293,358 293,360 293,361 293,362 294,324 294,325 294,326 294,347 294,348 294,351 294,352 294,353 294,354 294,356 294,357 294,358 294,363 294,364 294,365 295,325 295,326 295,348 295,350 295,351 295,353 295,354 295,355 295,356 295,357 295,358 295,366 296,326 296,327 296,328 296,349 296,351 296,352 296,353 296,354 296,355 296,356 296,358 296,367 297,327 297,347 297,348 297,350 297,356 297,357 297,368 298,328 298,330 298,346 298,347 298,348 298,349 298,356 298,357 298,369 299,328 299,329 299,330 299,346 299,347 299,357 299,358 299,370 300,329 300,330 300,334 300,343 300,344 300,345 300,346 300,358 300,359 300,360 300,371 301,329 301,330 301,331 301,332 301,333 301,343 301,344 301,358 301,359 301,372 301,373 302,329 302,330 302,331 302,342 302,343 302,357 302,358 302,359 302,372 302,373 303,328 303,330 303,331 303,341 303,356 303,357 303,358 303,373 303,374 304,328 304,330 304,339 304,340 304,341 304,356 304,357 304,372 304,373 304,375 305,328 305,329 305,330 305,331 305,339 305,340 305,355 305,356 305,372 305,373 305,375 305,376 306,328 306,329 306,336 306,338 306,354 306,355 306,372 306,374 306,375 306,377 307,328 307,330 307,331 307,332 307,336 307,337 307,338 307,353 307,354 307,355 307,372 307,373 307,374 307,375 307,378 308,329 308,330 308,331 308,332 308,334 308,335 308,336 308,337 308,352 308,353 308,372 308,374 308,375 308,377 308,378 309,329 309,330 309,331 309,332 309,334 309,336 309,337 309,338 309,352 309,353 309,371 309,372 309,374 309,375 309,376 309,378 309,379 310,329 310,330 310,331 310,333 310,335 310,336 310,351 310,352 310,369 310,370 310,372 310,374 310,375 310,378 310,379 311,327 311,329 311,330 311,331 311,333 311,334 311,335 311,351 311,352 311,369 311,372 311,373 311,374 311,375 311,378 312,326 312,327 312,328 312,330 312,331 312,333 312,335 312,352 312,353 312,368 312,369 312,372 312,373 312,375 312,377 313,326 313,327 313,329 313,330 313,331 313,332 313,333 313,334 313,335 313,352 313,353 313,354 313,366 313,367 313,369 313,372 313,375 313,377 314,322 314,323 314,324 314,325 314,326 314,327 314,328 314,330 314,331 314,333 314,334 314,353 314,354 314,355 314,356 314,364 314,365 314,366 314,369 314,370 314,371 314,372 314,374 314,375 314,376 315,316 315,317 315,318 315,319 315,320 315,321 315,328 315,330 315,331 315,333 315,353 315,354 315,355 315,356 315,363 315,364 315,365 315,366 315,369 315,370 315,372 315,374 316,310 316,312 316,313 316,314 316,315 316,328 316,329 316,330 316,331 316,333 316,353 316,354 316,357 316,362 316,363 316,364 316,366 316,367 316,368 316,369 316,372 316,374 317,310 317,311 317,328 317,329 317,330 317,331 317,332 317,353 317,354 317,357 317,358 317,360 317,361 317,363 317,364 317,365 317,366 317,368 317,369 317,370 317,371 317,372 317,373 318,308 318,309 318,311 318,312 318,330 318,331 318,332 318,351 318,352 318,354 318,357 318,358 318,359 318,360 318,361 318,362 318,363 318,365 318,366 318,367 318,368 319,307 319,308 319,309 319,310 319,330 319,331 319,351 319,352 319,354 319,355 319,356 319,357 319,359 319,360 319,361 319,362 319,363 319,364 319,367 320,306 320,307 320,308 320,329 320,330 320,331 320,350 320,351 320,354 320,355 320,357 320,360 320,361 321,306 321,307 321,308 321,329 321,330 321,348 321,349 321,351 321,354 321,355 321,357 321,359 321,360 322,305 322,306 322,307 322,328 322,329 322,330 322,346 322,347 322,348 322,351 322,353 322,354 322,357 322,358 322,359 323,305 323,306 323,327 323,328 323,329 323,344 323,345 323,347 323,348 323,351 323,352 323,353 323,354 323,357 323,358 324,304 324,306 324,307 324,325 324,326 324,327 324,328 324,329 324,343 324,345 324,346 324,348 324,351 324,353 324,354 324,356 324,357 325,304 325,305 325,325 325,327 325,328 325,343 325,345 325,348 325,350 325,351 325,352 325,354 325,355 325,356 326,303 326,304 326,324 326,326 326,327 326,328 326,342 326,344 326,345 326,348 326,349 326,350 326,351 326,354 326,356 327,302 327,303 327,324 327,326 327,342 327,343 327,345 327,348 327,349 327,351 327,353 327,354 327,356 328,301 328,302 328,323 328,324 328,325 328,326 328,340 328,341 328,342 328,345 328,347 328,348 328,351 328,352 328,354 328,355 329,300 329,301 329,302 329,322 329,324 329,325 329,326 329,327 329,328 329,340 329,341 329,342 329,345 329,346 329,348 329,351 329,354 329,355 330,299 330,300 330,321 330,324 330,325 330,327 330,328 330,338 330,339 330,340 330,342 330,345 330,348 330,350 330,351 330,353 330,354 330,355 331,297 331,298 331,299 331,320 331,321 331,322 331,323 331,324 331,325 331,326 331,327 331,328 331,329 331,332 331,338 331,339 331,342 331,344 331,345 331,348 331,349 331,351 331,353 331,354 332,297 332,319 332,320 332,321 332,322 332,323 332,329 332,330 332,331 332,332 332,333 332,334 332,337 332,338 332,339 332,342 332,343 332,345 332,348 332,351 332,352 333,296 333,297 333,319 333,320 333,332 333,333 333,334 333,335 333,336 333,337 333,339 333,342 333,345 333,347 333,348 333,350 334,295 334,318 334,332 334,334 334,336 334,338 334,339 334,340 334,341 334,342 334,345 334,346 334,348 334,349 335,294 335,295 335,317 335,318 335,334 335,335 335,336 335,338 335,339 335,340 335,342 335,345 335,346 335,347 336,293 336,294 336,335 336,336 336,337 336,339 336,342 336,343 336,344 337,294 337,316 337,317 337,337 337,338 337,339 337,340 337,341 337,342 337,343 338,294 338,315 338,316 338,317 338,336 338,337 338,339 339,294 339,316 339,317 339,335 339,336 339,338 340,294 340,317 340,334 340,335 340,336 340,337 341,294 341,317 341,333 341,334 341,336 342,294 342,295 342,332 342,333 342,335 343,294 343,295 343,317 343,330 343,331 343,332 343,333 343,334 344,294 344,295 344,296 344,317 344,318 344,329 344,330 344,331 344,332 344,333 344,334 345,294 345,295 345,296 345,297 345,316 345,317 345,318 345,328 345,330 345,332 346,294 346,295 346,297 346,316 346,317 346,327 346,329 346,330 346,331 346,332 347,296 347,297 347,298 347,299 347,315 347,317 347,318 347,319 347,320 347,325 347,326 347,327 347,328 347,329 347,330 347,332 348,297 348,298 348,299 348,313 348,314 348,315 348,317 348,318 348,320 348,323 348,324 348,325 348,326 348,329 348,330 348,332 349,298 349,299 349,300 349,313 349,315 349,316 349,318 349,319 349,320 349,321 349,322 349,323 349,330 349,331 349,332 349,333 350,299 350,300 350,301 350,312 350,315 350,316 350,317 350,318 350,320 350,321 350,332 350,333 351,299 351,300 351,302 351,310 351,311 351,312 351,314 351,315 351,318 351,319 351,320 351,333 352,300 352,301 352,303 352,308 352,309 352,312 352,313 352,314 352,315 352,318 352,334 353,301 353,302 353,303 353,304 353,306 353,307 353,309 353,312 353,314 353,315 353,317 353,335 354,301 354,302 354,303 354,305 354,306 354,309 354,311 354,312 354,313 354,315 354,316 354,317 354,335 355,302 355,303 355,305 355,306 355,309 355,310 355,312 355,313 355,315 355,334 356,301 356,302 356,303 356,304 356,305 356,306 356,307 356,308 356,309 356,310 356,311 356,312 356,313 356,314 356,334 357,300 357,303 357,304 357,306 357,308 357,309 357,312 357,313 357,314 357,315 357,334 358,299 358,300 358,302 358,303 358,304 358,306 358,307 358,309 358,312 358,313 358,315 358,316 358,334 359,298 359,300 359,301 359,303 359,306 359,309 359,311 359,315 359,316 359,317 359,333 360,297 360,300 360,303 360,305 360,306 360,309 360,310 360,316 360,317 360,318 360,332 361,296 361,297 361,299 361,300 361,302 361,303 361,304 361,306 361,308 361,309 361,318 361,319 361,331 361,332 362,295 362,297 362,298 362,300 362,301 362,303 362,306 362,307 362,318 362,320 362,330 362,331 363,294 363,295 363,297 363,299 363,300 363,302 363,303 363,305 363,306 363,318 363,319 363,321 363,327 363,328 363,329 363,330 363,331 364,292 364,293 364,294 364,296 364,297 364,298 364,300 364,301 364,303 364,304 364,317 364,318 364,319 364,321 364,322 364,327 364,328 364,329 365,289 365,290 365,291 365,294 365,295 365,296 365,297 365,300 365,301 365,302 365,316 365,317 365,318 365,319 365,320 365,321 365,323 365,324 365,325 365,326 365,327 365,328 366,290 366,291 366,292 366,294 366,297 366,298 366,299 366,300 366,316 366,317 366,318 366,319 366,320 366,321 366,322 366,323 366,324 366,325 366,327 367,290 367,291 367,292 367,293 367,294 367,297 367,298 367,314 367,315 367,316 367,317 367,322 367,323 367,324 367,325 367,326 368,292 368,293 368,294 368,296 368,297 368,313 368,314 368,322 368,324 368,325 369,291 369,293 369,294 369,296 369,297 369,311 369,312 369,313 369,322 369,323 369,324 369,325 370,291 370,293 370,294 370,295 370,310 370,311 370,325 371,291 371,293 371,294 371,308 371,309 371,310 371,325 372,291 372,293 372,294 372,307 372,308 372,309 372,325 372,326 373,291 373,292 373,293 373,294 373,306 373,307 373,308 373,325 373,326 374,291 374,294 374,295 374,296 374,297 374,304 374,305 374,306 374,307 374,325 374,326 375,292 375,294 375,295 375,297 375,304 375,305 375,306 375,325 375,326 376,292 376,294 376,295 376,297 376,303 376,304 376,305 376,306 376,325 376,326 377,293 377,294 377,296 377,297 377,298 377,299 377,300 377,301 377,302 377,303 377,305 377,306 377,325 378,294 378,297 378,298 378,299 378,300 378,302 378,303 378,304 378,306 378,307 378,325 379,295 379,296 379,297 379,300 379,301 379,303 379,306 379,308 379,324 379,325 380,296 380,297 380,300 380,301 380,302 380,303 380,305 380,306 380,309 380,324 380,325 381,296 381,297 381,299 381,300 381,302 381,303 381,304 381,306 381,309 381,310 381,323 381,324 381,325 382,297 382,298 382,300 382,303 382,306 382,308 382,309 382,311 382,312 382,321 382,322 382,323 382,324 382,325 382,349 383,296 383,297 383,300 383,302 383,303 383,306 383,307 383,309 383,312 383,313 383,322 383,324 383,326 383,348 383,349 383,350 384,298 384,300 384,301 384,303 384,304 384,306 384,309 384,311 384,312 384,314 384,316 384,320 384,321 384,324 384,326 384,327 384,328 384,346 384,347 384,348 384,349 385,297 385,298 385,300 385,303 385,305 385,306 385,307 385,308 385,309 385,310 385,312 385,315 385,316 385,319 385,320 385,321 385,322 385,323 385,324 385,325 385,326 385,327 385,328 385,346 385,347 385,348 386,298 386,299 386,300 386,303 386,304 386,305 386,306 386,309 386,310 386,311 386,312 386,313 386,314 386,315 386,317 386,319 386,320 386,321 386,322 386,326 386,327 386,328 386,329 386,345 386,346 386,347 386,348 387,299 387,300 387,303 387,305 387,306 387,308 387,309 387,311 387,312 387,313 387,314 387,315 387,316 387,317 387,318 387,319 387,320 387,321 387,322 387,327 387,329 387,330 387,331 387,343 387,344 387,345 387,346 388,299 388,300 388,302 388,303 388,305 388,306 388,307 388,309 388,310 388,315 388,316 388,317 388,318 388,320 388,321 388,322 388,332 388,333 388,334 388,335 388,343 388,344 388,345 388,346 389,300 389,301 389,303 389,306 389,309 389,310 389,317 389,318 389,319 389,320 389,335 389,336 389,337 389,338 389,339 389,342 389,345 390,301 390,303 390,305 390,306 390,308 390,309 390,318 390,319 390,320 390,336 390,337 390,338 390,339 390,340 390,341 390,342 390,344 390,345 391,301 391,303 391,304 391,306 391,307 391,319 391,320 391,321 391,336 391,338 391,339 391,342 391,343 391,344 391,345 391,346 392,302 392,303 392,306 392,307 392,308 392,320 392,321 392,322 392,339 392,342 392,343 392,345 392,347 393,303 393,306 393,307 393,309 393,310 393,321 393,322 393,323 393,339 393,340 393,342 393,343 393,345 393,346 393,347 394,303 394,306 394,307 394,309 394,310 394,322 394,323 394,324 394,341 394,342 394,343 394,345 394,346 394,348 394,349 395,304 395,305 395,306 395,308 395,309 395,310 395,311 395,323 395,324 395,325 395,326 395,341 395,342 395,343 395,345 395,348 395,350 396,305 396,306 396,309 396,312 396,323 396,324 396,325 396,326 396,327 396,341 396,342 396,344 396,345 396,348 396,349 396,351 396,352 396,353 397,305 397,306 397,307 397,308 397,309 397,310 397,312 397,313 397,324 397,326 397,327 397,328 397,340 397,342 397,343 397,344 397,345 397,348 397,351 397,353 397,354 398,308 398,309 398,310 398,311 398,312 398,314 398,324 398,325 398,327 398,329 398,340 398,342 398,344 398,345 398,346 398,347 398,348 398,349 398,350 398,351 398,352 398,353 398,354 398,355 398,356 398,357 399,308 399,309 399,310 399,311 399,312 399,313 399,314 399,315 399,326 399,327 399,330 399,339 399,341 399,342 399,345 399,346 399,348 399,351 399,354 399,355 400,314 400,315 400,316 400,327 400,328 400,330 400,331 400,333 400,337 400,338 400,339 400,340 400,342 400,344 400,345 400,348 400,350 400,351 400,353 400,354 400,355 401,317 401,318 401,319 401,327 401,329 401,330 401,332 401,333 401,337 401,339 401,342 401,344 401,345 401,348 401,349 401,351 401,352 401,353 401,354 402,320 402,328 402,329 402,330 402,333 402,334 402,336 402,338 402,339 402,342 402,343 402,345 402,348 402,351 402,352 403,329 403,330 403,332 403,333 403,335 403,336 403,337 403,339 403,341 403,342 403,345 403,347 403,348 403,349 403,350 404,326 404,327 404,328 404,330 404,331 404,333 404,336 404,339 404,340 404,341 404,342 404,345 404,346 404,348 404,349 405,326 405,327 405,330 405,331 405,333 405,335 405,336 405,337 405,338 405,339 405,340 405,342 405,345 405,346 405,347 406,326 406,327 406,329 406,330 406,332 406,333 406,334 406,336 406,339 406,342 406,344 406,345 407,314 407,315 407,316 407,317 407,318 407,319 407,320 407,321 407,322 407,323 407,324 407,325 407,327 407,328 407,330 407,332 407,333 407,336 407,338 407,339 407,342 407,343 407,344 408,305 408,308 408,309 408,310 408,311 408,312 408,313 408,315 408,317 408,318 408,321 408,322 408,324 408,327 408,330 408,331 408,332 408,333 408,336 408,337 408,339 408,341 408,342 409,304 409,305 409,306 409,307 409,309 409,311 409,312 409,315 409,316 409,318 409,321 409,324 409,326 409,327 409,328 409,329 409,330 409,331 409,333 409,336 409,339 409,340 410,300 410,301 410,302 410,303 410,305 410,306 410,309 410,310 410,312 410,315 410,318 410,320 410,321 410,324 410,325 410,326 410,327 410,330 410,333 410,335 410,336 410,338 410,339 411,296 411,297 411,298 411,299 411,300 411,303 411,304 411,306 411,309 411,312 411,314 411,315 411,318 411,319 411,321 411,322 411,323 411,324 411,327 411,329 411,330 411,333 411,334 411,336 411,337 412,296 412,297 412,298 412,300 412,303 412,306 412,308 412,309 412,312 412,313 412,315 412,317 412,318 412,319 412,320 412,321 412,323 412,324 412,327 412,328 412,330 412,333 412,334 412,335 413,294 413,295 413,297 413,300 413,302 413,303 413,306 413,307 413,309 413,312 413,315 413,316 413,317 413,318 413,321 413,322 413,324 413,327 413,330 413,332 413,333 414,292 414,293 414,294 414,296 414,297 414,300 414,301 414,303 414,306 414,309 414,311 414,312 414,313 414,314 414,315 414,316 414,318 414,321 414,324 414,326 414,327 414,330 414,331 414,332 415,288 415,289 415,290 415,291 415,294 415,295 415,297 415,300 415,303 415,305 415,306 415,307 415,308 415,309 415,310 415,311 415,312 415,315 415,318 415,320 415,321 415,324 415,325 415,327 415,329 415,330 416,284 416,285 416,286 416,287 416,288 416,289 416,291 416,294 416,297 416,299 416,300 416,301 416,302 416,303 416,304 416,305 416,306 416,308 416,309 416,312 416,314 416,315 416,318 416,319 416,321 416,324 416,327 416,328 416,329 416,330 417,280 417,281 417,282 417,283 417,285 417,288 417,291 417,293 417,294 417,295 417,296 417,297 417,298 417,299 417,300 417,303 417,306 417,308 417,309 417,312 417,313 417,315 417,318 417,321 417,323 417,324 417,325 417,326 418,277 418,278 418,279 418,282 418,285 418,287 418,288 418,289 418,290 418,291 418,292 418,293 418,294 418,297 418,300 418,302 418,303 418,306 418,307 418,309 418,312 418,315 418,317 418,318 418,321 418,322 418,324 418,325 419,273 419,274 419,275 419,276 419,277 419,279 419,281 419,282 419,285 419,286 419,287 419,288 419,291 419,294 419,296 419,297 419,300 419,301 419,303 419,306 419,307 419,309 419,311 419,312 419,315 419,316 419,318 419,320 419,321 419,322 419,323 420,271 420,272 420,273 420,274 420,275 420,276 420,279 420,280 420,281 420,282 420,283 420,284 420,285 420,288 420,290 420,291 420,292 420,294 420,295 420,296 420,297 420,298 420,299 420,300 420,303 420,305 420,306 420,309 420,310 420,312 420,315 420,318 420,320 420,321 420,323 421,266 421,267 421,268 421,269 421,270 421,271 421,273 421,274 421,276 421,277 421,278 421,279 421,282 421,284 421,285 421,288 421,289 421,291 421,292 421,293 421,294 421,295 421,299 421,301 421,302 421,303 421,304 421,305 421,306 421,309 421,310 421,312 421,314 421,315 421,316 421,317 421,318 421,319 421,320 422,263 422,264 422,265 422,267 422,268 422,270 422,271 422,272 422,273 422,274 422,275 422,276 422,278 422,279 422,282 422,283 422,285 422,286 422,287 422,288 422,289 422,290 422,291 422,301 422,303 422,304 422,306 422,308 422,309 422,310 422,311 422,312 422,313 422,314 422,315 423,258 423,259 423,260 423,261 423,262 423,263 423,264 423,266 423,267 423,268 423,269 423,270 423,272 423,273 423,275 423,276 423,277 423,279 423,281 423,282 423,283 423,284 423,301 423,302 423,303 423,304 423,305 423,306 423,307 423,308 424,255 424,256 424,257 424,258 424,259 424,260 424,261 424,262 424,263 424,264 424,265 424,266 424,267 424,270 424,271 424,272 424,273 424,274 424,275 424,276 424,277 424,278 424,279 424,280 424,298 424,303 424,304 425,250 425,251 425,252 425,253 425,254 425,255 425,256 425,257 425,258 425,260 425,261 425,263 425,264 425,265 425,266 425,267 425,268 425,269 425,271 425,272 425,296 425,298 426,244 426,245 426,246 426,247 426,248 426,249 426,250 426,251 426,252 426,253 426,254 426,255 426,257 426,258 426,259 426,260 426,261 426,262 426,292 426,294 427,237 427,238 427,239 427,240 427,241 427,242 427,243 427,244 427,245 427,246 427,247 427,248 427,249 427,251 427,252 427,253 427,254 427,255 427,256 427,287 427,289 428,231 428,232 428,233 428,234 428,235 428,236 428,237 428,238 428,239 428,240 428,242 428,243 428,244 428,245 428,246 428,247 428,248 428,249 428,250 428,271 428,281 428,283 429,224 429,225 429,226 429,227 429,228 429,229 429,230 429,231 429,232 429,233 429,234 429,236 429,237 429,238 429,239 429,240 429,241 429,242 429,243 429,271 429,273 429,276 429,278 430,217 430,218 430,219 430,220 430,221 430,222 430,223 430,224 430,225 430,226 430,227 430,228 430,229 430,230 430,231 430,232 430,233 430,234 430,235 430,236 430,260 430,263 430,265 430,268 431,209 431,212 431,213 431,214 431,215 431,216 431,217 431,218 431,219 431,220 431,221 431,222 431,224 431,225 431,226 431,227 431,228 431,229 431,251 431,256 431,260 432,205 432,206 432,207 432,208 432,209 432,210 432,211 432,212 432,213 432,214 432,215 432,216 432,218 432,219 432,220 432,221 432,222 432,223 432,225 432,226 432,251 432,253 432,256 433,198 433,199 433,200 433,201 433,202 433,203 433,204 433,205 433,207 433,209 433,210 433,212 433,213 433,214 433,215 433,216 433,217 433,221 433,237 433,245 433,247 433,249 434,193 434,194 434,195 434,196 434,197 434,198 434,201 434,204 434,206 434,207 434,208 434,210 434,211 434,213 434,231 434,237 434,239 434,242 435,188 435,189 435,190 435,191 435,192 435,193 435,195 435,198 435,200 435,201 435,204 435,205 435,206 435,207 435,210 435,213 435,224 435,227 435,229 435,231 435,234 436,184 436,185 436,186 436,187 436,189 436,192 436,194 436,195 436,198 436,199 436,200 436,201 436,202 436,203 436,204 436,207 436,209 436,210 436,211 436,212 436,213 436,218 436,221 436,224 436,227 437,174 437,180 437,181 437,182 437,183 437,186 437,188 437,189 437,192 437,193 437,194 437,195 437,196 437,197 437,198 437,201 437,203 437,204 437,207 437,208 437,210 437,214 437,218 437,221 438,174 438,175 438,176 438,177 438,178 438,179 438,180 438,182 438,183 438,186 438,187 438,189 438,190 438,191 438,192 438,193 438,195 438,197 438,198 438,201 438,202 438,204 438,207 438,210 438,214 438,216 439,167 439,168 439,169 439,170 439,171 439,172 439,173 439,174 439,176 439,177 439,180 439,181 439,183 439,185 439,186 439,187 439,188 439,189 439,191 439,192 439,195 439,196 439,198 439,201 439,203 439,204 439,205 439,206 439,207 439,208 439,209 440,161 440,162 440,163 440,164 440,165 440,166 440,168 440,170 440,171 440,174 440,175 440,177 440,180 440,181 440,182 440,183 440,184 440,185 440,186 440,189 440,190 440,192 440,195 440,196 440,197 440,198 440,199 440,200 440,201 440,202 440,205 440,208 441,155 441,156 441,157 441,158 441,159 441,160 441,162 441,164 441,165 441,168 441,169 441,171 441,173 441,174 441,175 441,176 441,177 441,178 441,179 441,180 441,183 441,184 441,186 441,189 441,191 441,192 441,193 441,194 441,195 442,145 442,149 442,150 442,151 442,152 442,153 442,154 442,156 442,158 442,159 442,162 442,163 442,165 442,167 442,168 442,169 442,170 442,171 442,172 442,173 442,174 442,177 442,178 442,180 442,183 442,186 442,187 442,188 442,189 442,190 443,142 443,144 443,145 443,146 443,147 443,148 443,149 443,150 443,152 443,153 443,156 443,157 443,159 443,161 443,162 443,163 443,164 443,165 443,166 443,167 443,168 443,171 443,172 443,174 443,177 443,180 443,182 443,183 443,184 443,185 443,186 444,138 444,139 444,140 444,141 444,142 444,143 444,144 444,146 444,147 444,150 444,151 444,153 444,154 444,155 444,156 444,157 444,158 444,159 444,160 444,161 444,162 444,164 444,165 444,166 444,168 444,171 444,174 444,176 444,177 444,179 444,180 444,181 444,182 444,183 445,133 445,134 445,135 445,136 445,137 445,138 445,140 445,141 445,144 445,145 445,147 445,149 445,150 445,151 445,152 445,153 445,155 445,156 445,159 445,160 445,162 445,164 445,165 445,168 445,170 445,171 445,172 445,173 445,174 445,175 445,176 445,177 445,178 445,179 446,129 446,130 446,131 446,132 446,134 446,135 446,138 446,139 446,141 446,144 446,145 446,146 446,147 446,148 446,149 446,150 446,153 446,154 446,156 446,158 446,159 446,162 446,164 446,165 446,168 446,169 446,175 447,126 447,127 447,128 447,129 447,132 447,133 447,135 447,138 447,139 447,140 447,141 447,142 447,143 447,144 447,147 447,148 447,150 447,153 447,155 447,156 447,157 447,160 447,162 447,163 447,164 447,165 447,168 448,122 448,123 448,124 448,125 448,126 448,127 448,129 448,132 448,134 448,135 448,136 448,137 448,138 448,141 448,142 448,144 448,147 448,149 448,150 448,151 448,152 448,153 448,154 448,155 448,160 448,162 448,163 448,165 448,167 448,168 449,119 449,120 449,121 449,122 449,123 449,126 449,129 449,130 449,131 449,132 449,133 449,135 449,136 449,138 449,141 449,144 449,145 449,146 449,147 449,148 449,149 449,160 449,161 449,162 449,163 449,165 449,166 449,167 450,118 450,119 450,120 450,123 450,125 450,126 450,127 450,128 450,129 450,130 450,132 450,135 450,137 450,138 450,139 450,140 450,141 450,142 450,143 450,144 450,162 450,163 450,164 450,165 451,115 451,116 451,117 451,119 451,120 451,123 451,124 451,126 451,129 451,132 451,134 451,135 451,136 451,137 451,138 451,139 451,162 451,163 451,164 451,165 452,109 452,111 452,112 452,113 452,114 452,117 452,118 452,120 452,122 452,123 452,126 452,128 452,129 452,130 452,131 452,132 452,133 452,161 452,162 452,163 452,164 453,109 453,110 453,111 453,112 453,113 453,114 453,117 453,120 453,121 453,122 453,123 453,126 453,127 453,128 453,129 453,160 453,162 453,163 453,164 454,108 454,111 454,114 454,116 454,117 454,120 454,121 454,123 454,126 454,158 454,159 454,160 454,161 454,162 455,105 455,106 455,107 455,108 455,110 455,111 455,113 455,114 455,115 455,116 455,117 455,118 455,119 455,120 455,123 455,125 455,126 455,127 455,157 455,158 455,159 455,160 456,104 456,105 456,108 456,109 456,110 456,111 456,112 456,114 456,117 456,119 456,120 456,123 456,124 456,125 456,156 456,157 456,158 456,159 457,101 457,102 457,103 457,105 457,106 457,107 457,108 457,110 457,111 457,112 457,113 457,114 457,117 457,118 457,120 457,123 457,124 457,156 457,158 458,99 458,100 458,102 458,103 458,104 458,105 458,107 458,108 458,109 458,113 458,114 458,117 458,120 458,122 458,123 458,155 458,156 458,157 459,94 459,95 459,96 459,97 459,98 459,99 459,100 459,101 459,102 459,105 459,106 459,108 459,109 459,114 459,116 459,117 459,120 459,121 459,123 459,124 459,155 459,156 460,92 460,93 460,94 460,95 460,96 460,98 460,99 460,100 460,102 460,103 460,104 460,105 460,106 460,114 460,115 460,117 460,120 460,123 460,125 460,154 460,155 461,89 461,90 461,91 461,93 461,94 461,95 461,96 461,97 461,99 461,102 461,116 461,117 461,119 461,120 461,121 461,123 461,124 461,126 461,154 462,86 462,87 462,88 462,90 462,93 462,94 462,96 462,98 462,99 462,100 462,101 462,102 462,117 462,118 462,120 462,121 462,123 462,126 462,127 463,82 463,83 463,84 463,85 463,87 463,90 463,91 463,92 463,93 463,96 463,97 463,98 463,117 463,120 463,122 463,123 463,126 463,127 463,128 464,77 464,79 464,80 464,81 464,84 464,86 464,87 464,89 464,90 464,91 464,93 464,94 464,95 464,96 464,117 464,120 464,121 464,123 464,126 464,129 464,130 465,77 465,78 465,80 465,81 465,84 465,85 465,87 465,89 465,90 465,93 465,117 465,120 465,123 465,124 465,125 465,126 465,129 465,130 465,131 466,74 466,75 466,76 466,78 466,79 466,81 466,84 466,85 466,86 466,87 466,88 466,89 466,90 466,93 466,118 466,119 466,120 466,123 466,124 466,125 466,126 466,127 466,128 466,129 466,130 466,131 466,132 467,75 467,78 467,79 467,80 467,81 467,82 467,83 467,84 467,87 467,88 467,90 467,91 467,92 467,93 467,119 467,120 467,123 467,125 467,126 467,128 467,129 467,132 468,75 468,76 468,77 468,78 468,80 468,81 468,82 468,84 468,87 468,89 468,90 468,120 468,122 468,123 468,125 468,126 468,127 468,129 468,130 468,131 468,172 468,175 468,177 469,77 469,78 469,79 469,80 469,81 469,82 469,84 469,86 469,87 469,90 469,91 469,92 469,93 469,121 469,122 469,123 469,125 469,126 469,129 469,130 469,165 469,168 469,170 470,78 470,83 470,84 470,85 470,86 470,87 470,88 470,90 470,91 470,93 470,122 470,123 470,125 470,126 470,129 470,158 470,159 470,161 470,163 471,86 471,89 471,90 471,92 471,93 471,94 471,123 471,124 471,125 471,126 471,128 471,152 471,154 471,156 472,90 472,91 472,93 472,94 472,95 472,96 472,97 472,98 472,99 472,122 472,123 472,125 472,126 472,127 472,144 472,145 472,146 472,147 472,148 472,150 473,92 473,93 473,96 473,97 473,99 473,100 473,122 473,123 473,124 473,125 473,126 473,127 473,144 473,147 474,93 474,94 474,96 474,97 474,98 474,99 474,100 474,101 474,102 474,103 474,121 474,122 474,123 474,126 474,127 474,144 474,146 474,147 475,95 475,96 475,99 475,100 475,101 475,102 475,120 475,121 475,123 475,125 475,126 475,127 475,144 475,145 475,146 475,147 475,149 476,96 476,97 476,99 476,100 476,122 476,123 476,124 476,126 476,127 476,144 476,146 476,147 476,148 476,149 477,96 477,97 477,98 477,99 477,100 477,123 477,126 477,128 477,144 477,147 477,148 477,150 478,98 478,99 478,124 478,126 478,127 478,144 478,147 478,150 479,98 479,99 479,125 479,126 479,127 479,145 479,146 479,147 479,150 479,151 479,152 480,98 480,99 480,125 480,126 480,127 480,146 480,147 480,148 480,149 480,150 480,151 480,152 480,153 480,154 480,155 481,98 481,99 481,126 481,127 481,147 481,149 481,150 481,153 482,97 482,98 482,126 482,146 482,147 482,148 482,150 482,151 482,152 483,97 483,98 483,126 483,144 483,145 483,146 483,147 483,149 483,150 484,96 484,97 484,98 484,144 484,146 484,147 484,148 485,95 485,96 485,97 485,98 485,143 485,144 485,145 485,146 486,94 486,95 486,96 486,97 486,98 486,141 486,142 486,143 487,93 487,94 487,95 487,96 487,97 487,138 487,140 487,141 488,92 488,93 488,94 488,95 488,138 488,139 488,140 488,141 489,90 489,91 489,92 489,93 489,136 489,137 489,138 490,89 490,90 490,134 490,135 490,136 490,137 491,88 491,89 491,131 491,132 491,133 491,135 492,86 492,87 492,88 492,128 492,129 492,130 492,131 493,84 493,85 493,86 493,125 493,126 493,127 493,128 493,129 494,81 494,82 494,83 494,84 494,122 494,123 494,124 494,126 494,127 495,76 495,77 495,78 495,79 495,80 495,81 495,117 495,118 495,119 495,120 495,121 495,122 495,123 495,125 496,72 496,73 496,74 496,75 496,76 496,77 496,78 496,115 496,116 496,117 496,118 496,119 496,120 496,121 496,123 496,124 497,72 497,73 497,74 497,75 497,110 497,112 497,113 497,114 497,115 497,117 497,118 497,120 497,121 497,122 498,71 498,72 498,73 498,107 498,108 498,109 498,110 498,111 498,112 498,114 498,116 498,117 498,120 498,121 499,70 499,71 499,105 499,106 499,107 499,108 499,110 499,114 499,115 499,116 499,117 499,120 500,68 500,69 500,70 500,71 500,103 500,104 500,105 500,106 500,108 500,109 500,114 500,115 500,116 500,117 500,119 500,157 500,158 500,159 500,160 501,69 501,70 501,101 501,102 501,104 501,105 501,107 501,108 501,116 501,117 501,118 501,119 501,153 501,154 501,155 501,156 501,158 501,159 502,68 502,69 502,100 502,102 502,103 502,105 502,106 502,108 502,116 502,117 502,151 502,152 502,153 502,155 502,156 502,157 502,159 503,69 503,99 503,100 503,102 503,105 503,115 503,116 503,151 503,152 503,153 503,154 503,156 504,69 504,70 504,99 504,101 504,102 504,104 504,115 504,116 504,150 504,151 504,153 504,155 505,70 505,98 505,99 505,100 505,102 505,103 505,114 505,115 505,116 505,150 505,152 505,153 505,154 506,70 506,97 506,99 506,101 506,102 506,114 506,115 506,149 506,150 506,151 506,153 507,70 507,71 507,96 507,98 507,99 507,101 507,114 507,115 507,149 507,150 507,152 508,71 508,72 508,94 508,95 508,96 508,97 508,98 508,99 508,100 508,112 508,113 508,114 508,148 508,149 508,150 508,151 509,71 509,72 509,94 509,96 509,97 509,99 509,113 509,114 509,147 509,150 509,151 510,72 510,73 510,74 510,93 510,94 510,95 510,96 510,97 510,98 510,114 510,147 510,149 510,150 511,73 511,74 511,93 511,94 511,96 511,97 511,114 511,115 511,146 511,147 511,149 512,74 512,75 512,76 512,92 512,93 512,96 512,115 512,116 512,147 512,148 512,149 512,150 513,75 513,76 513,77 513,91 513,92 513,93 513,96 513,97 513,98 513,115 513,116 513,117 513,147 513,150 513,151 513,152 514,76 514,77 514,91 514,92 514,93 514,95 514,96 514,99 514,116 514,117 514,148 514,150 514,151 514,152 515,78 515,79 515,81 515,93 515,94 515,95 515,96 515,97 515,98 515,99 515,114 515,116 515,117 515,118 515,119 515,149 515,150 515,151 515,152 515,153 516,79 516,80 516,81 516,83 516,96 516,97 516,98 516,99 516,100 516,101 516,104 516,114 516,115 516,116 516,117 516,119 516,120 516,151 516,152 516,153 516,154 516,155 516,156 516,157 517,80 517,81 517,82 517,83 517,100 517,101 517,102 517,103 517,104 517,105 517,106 517,114 517,115 517,117 517,118 517,120 517,121 517,122 517,155 517,156 517,157 517,158 517,159 517,160 517,161 518,81 518,82 518,83 518,101 518,105 518,106 518,107 518,108 518,109 518,110 518,111 518,112 518,114 518,117 518,118 518,120 518,122 518,123 518,157 518,160 518,161 518,162 518,163 518,164 519,110 519,111 519,112 519,113 519,114 519,115 519,116 519,117 519,118 519,119 519,120 519,121 519,123 519,124 519,125 519,162 519,163 519,164 519,165 520,113 520,114 520,115 520,117 520,120 520,123 520,125 520,126 520,127 520,164 520,165 520,166 520,167 520,168 521,115 521,117 521,119 521,120 521,121 521,122 521,123 521,124 521,126 521,128 521,129 521,130 521,164 521,165 521,166 521,167 521,168 521,169 521,170 522,116 522,117 522,118 522,120 522,123 522,124 522,125 522,126 522,128 522,129 522,130 522,131 522,167 522,168 523,118 523,119 523,120 523,122 523,123 523,126 523,127 523,128 523,129 523,132 523,133 524,121 524,122 524,123 524,124 524,126 524,129 524,130 524,131 524,132 524,134 524,135 525,125 525,126 525,127 525,128 525,129 525,130 525,132 525,133 525,135 525,136 525,137 526,128 526,129 526,130 526,131 526,132 526,133 526,134 526,135 526,136 526,138 526,139 526,164 527,132 527,133 527,134 527,135 527,136 527,137 527,138 527,139 527,140 527,141 527,162 527,163 527,164 528,137 528,138 528,139 528,140 528,141 528,142 528,143 528,144 528,146 528,147 528,160 528,161 528,162 528,164 528,165 528,166 528,167 529,141 529,142 529,143 529,144 529,145 529,146 529,147 529,148 529,149 529,159 529,160 529,161 529,162 529,164 529,165 529,166 529,167 530,145 530,146 530,147 530,148 530,149 530,150 530,151 530,152 530,153 530,154 530,155 530,156 530,157 530,158 530,159 530,160 530,162 530,164 530,165 530,166 530,168 530,169 530,170 530,171 531,148 531,149 531,150 531,151 531,153 531,154 531,156 531,157 531,158 531,159 531,160 531,161 531,162 531,163 531,164 531,165 531,166 531,168 531,169 531,171 531,172 531,174 532,152 532,153 532,154 532,155 532,156 532,158 532,159 532,162 532,163 532,165 532,167 532,168 532,171 532,173 532,174 532,175 532,176 532,177 533,153 533,156 533,157 533,158 533,159 533,162 533,165 533,167 533,168 533,169 533,170 533,171 533,172 533,174 533,175 533,177 533,178 533,179 533,180 533,181 534,160 534,161 534,162 534,163 534,164 534,165 534,166 534,168 534,171 534,172 534,173 534,174 534,175 534,176 534,177 534,180 534,181 534,182 534,183 534,184 534,185 535,163 535,166 535,167 535,168 535,169 535,170 535,171 535,172 535,174 535,175 535,177 535,178 535,179 535,180 535,181 535,182 535,183 535,185 535,186 535,187 535,188 535,189 535,190 535,192 536,173 536,174 536,175 536,176 536,177 536,178 536,179 536,180 536,183 536,184 536,185 536,186 536,189 536,190 536,191 536,192 536,193 537,179 537,180 537,181 537,182 537,183 537,186 537,187 537,188 537,189 537,190 537,191 537,192 537,193 537,194 537,195 537,196 538,183 538,184 538,185 538,186 538,187 538,189 538,192 538,193 538,194 538,195 538,197 538,198 538,199 539,188 539,189 539,190 539,191 539,192 539,195 539,196 539,197 539,198 539,199 539,200 539,201 539,202 539,203 540,193 540,194 540,195 540,196 540,197 540,198 540,200 540,201 540,202 540,203 540,204 540,205 540,206 540,207 540,212 541,195 541,199 541,200 541,201 541,202 541,203 541,204 541,205 541,206 541,207 541,208 541,209 541,210 541,211 541,212 542,204 542,205 542,206 542,207 542,208 542,209 542,210 542,211 542,212 542,213 542,214 542,215 542,216 542,217 542,219 543,206 543,208 543,209 543,210 543,211 543,212 543,213 543,214 543,215 543,216 543,217 543,218 543,219 543,220 543,221 543,222 544,213 544,214 544,215 544,216 544,219 544,220 544,221 544,222 544,223 544,224 544,225 544,226 544,227 544,230 544,232 545,217 545,218 545,219 545,220 545,222 545,224 545,225 545,226 545,227 545,228 545,229 545,230 545,231 545,232 546,221 546,222 546,223 546,224 546,225 546,226 546,228 546,229 546,230 546,231 546,232 546,233 546,234 546,235 546,236 547,227 547,228 547,229 547,230 547,231 547,232 547,233 547,234 547,235 547,236 547,237 547,238 547,239 547,240 547,244 548,229 548,230 548,233 548,234 548,235 548,236 548,237 548,238 548,239 548,240 548,241 548,242 548,243 548,244 549,236 549,238 549,239 549,240 549,241 549,242 549,243 549,244 549,245 549,246 549,247 549,248 550,238 550,242 550,243 550,244 550,245 550,246 550,247 550,248 550,249 550,250 550,251 550,252 551,248 551,249 551,250 551,251 551,252 551,253 551,254 551,255 551,256 551,257 551,258 552,251 552,252 552,253 552,255 552,258 552,259 552,260 552,261 553,252 553,255 553,256 553,257 553,258 553,261 553,262 553,263 553,264 553,265 554,252 554,253 554,255 554,256 554,258 554,261 554,264 554,266 554,267 554,268 555,254 555,255 555,257 555,258 555,260 555,261 555,264 555,265 555,267 555,269 555,270 555,271 555,272 556,255 556,258 556,259 556,261 556,264 556,267 556,269 556,270 556,272 556,273 556,274 557,255 557,258 557,259 557,260 557,261 557,263 557,264 557,267 557,268 557,270 557,273 557,274 557,275 557,276 557,277 557,278 558,253 558,254 558,255 558,257 558,258 558,261 558,262 558,263 558,264 558,267 558,270 558,272 558,273 558,276 558,277 558,279 558,280 558,281 559,252 559,255 559,256 559,258 559,261 559,264 559,265 559,266 559,267 559,268 559,270 559,271 559,273 559,276 559,279 559,281 559,282 559,283 559,284 559,285 559,286 560,252 560,253 560,254 560,255 560,258 560,260 560,261 560,264 560,265 560,267 560,269 560,270 560,271 560,272 560,273 560,275 560,276 560,279 560,280 560,282 560,285 560,287 560,288 560,289 561,253 561,254 561,255 561,257 561,258 561,259 561,261 561,264 561,267 561,269 561,270 561,273 561,274 561,275 561,276 561,277 561,278 561,279 561,280 561,282 561,284 561,285 561,288 561,289 561,290 561,291 561,292 561,293 562,253 562,254 562,255 562,256 562,257 562,258 562,261 562,262 562,263 562,264 562,267 562,268 562,270 562,273 562,276 562,278 562,279 562,281 562,282 562,283 562,284 562,285 562,286 562,287 562,288 562,291 562,293 562,294 562,295 562,296 563,258 563,259 563,260 563,263 563,264 563,265 563,266 563,267 563,270 563,272 563,273 563,276 563,277 563,279 563,282 563,285 563,287 563,288 563,289 563,290 563,291 563,292 563,293 563,294 563,295 563,297 563,298 563,299 564,268 564,269 564,270 564,271 564,272 564,273 564,274 564,275 564,276 564,277 564,278 564,279 564,280 564,281 564,282 564,283 564,284 564,285 564,286 564,287 564,288 564,289 564,290 564,291 564,292 564,293 564,294 564,295 564,296 564,297 564,298 564,299 564,300 564,301 564,302 564,303 565,292 565,299 565,304 565,305 565,306"/>
<rect x="74.5" y="57.5" width="535" height="362" stroke="#000" stroke-width="1" fill="none" shape-rendering="crispEdges"/>
<text x="339.75" y="33.5" text-anchor="middle" letter-spacing="0.065">Day 027 of 2025, Sidereal Day-to-day VTEC variation (SDTVAR) for receiver lpgs</text>
<text x="74.5" y="443.5" text-anchor="middle">0</text><text x="181.5" y="443.5" text-anchor="middle">5</text><text x="288.5" y="443.5" text-anchor="middle">10</text><text x="395.5" y="443.5" text-anchor="middle">15</text><text x="502.5" y="443.5" text-anchor="middle">20</text><text x="609.5" y="443.5" text-anchor="middle">25</text>
<text x="61" y="63" text-anchor="end">20</text><text x="61" y="123" text-anchor="end">15</text><text x="61" y="184" text-anchor="end">10</text><text x="61" y="244" text-anchor="end">5</text><text x="61" y="304" text-anchor="end">0</text><text x="61" y="365" text-anchor="end">-5</text><text x="61" y="425" text-anchor="end">-10</text>
<text x="339.5" y="471.5" text-anchor="middle">GPS time / hours</text>
<text transform="translate(19,239) rotate(-90)" text-anchor="middle">SDTVAR / TECUs</text>
</svg>
</body></html>
